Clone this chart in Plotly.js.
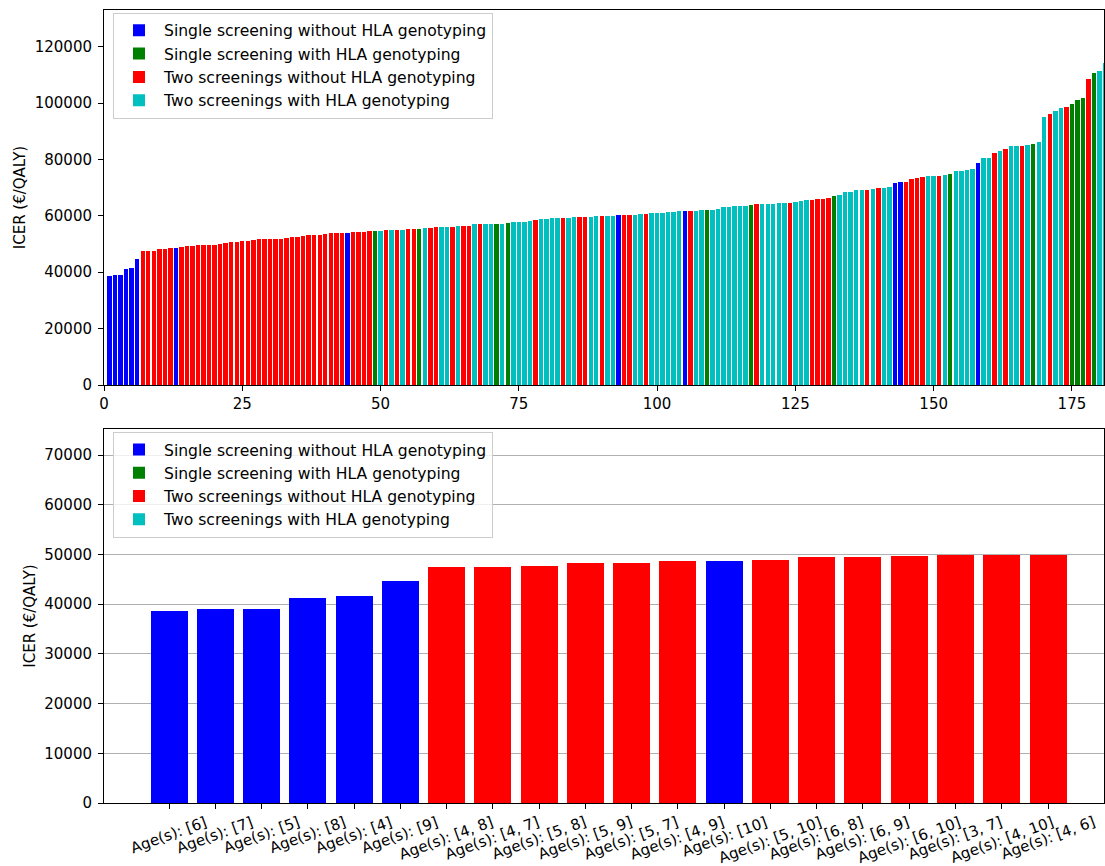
<!DOCTYPE html>
<html>
<head>
<meta charset="utf-8">
<script src="https://cdn.plot.ly/plotly-3.0.1.min.js"></script>
<style>
html, body { margin: 0; padding: 0; background: #ffffff; }
#chart { width: 1105px; height: 866px; }
</style>
</head>
<body>
<div id="chart"></div>
<script>
// ---- Data ----
const seriesNames = [
  'Single screening without HLA genotyping',
  'Single screening with HLA genotyping',
  'Two screenings without HLA genotyping',
  'Two screenings with HLA genotyping'
];
const seriesColors = ['#0000ff', '#008000', '#ff0000', '#00bfbf'];

// Top panel: all strategies sorted by ICER (position 1..N), group index into seriesNames
const topValues = [
  38530, 38930, 38930, 41150, 41550, 44570, 47380, 47380, 47590, 48190,
  48190, 48590, 48590, 48790, 49400, 49400, 49600, 49800, 49800, 49800,
  50080, 50440, 50790, 50790, 51150, 51150, 51500, 51860, 51860, 51860,
  51860, 51860, 52210, 52570, 52570, 52920, 53280, 53280, 53280, 53640,
  53990, 53990, 53990, 53990, 54350, 54350, 54350, 54700, 54700, 54700,
  55060, 55060, 55060, 55060, 55410, 55410, 55410, 55770, 55770, 56120,
  56120, 56120, 56120, 56470, 56470, 56470, 57180, 57180, 57180, 57180,
  57180, 57180, 57540, 57890, 57890, 57890, 58250, 58600, 58960, 58960,
  59310, 59310, 59310, 59310, 59670, 59670, 59670, 59670, 60020, 60020,
  60020, 60020, 60380, 60380, 60380, 60380, 60740, 60740, 61090, 61090,
  61090, 61450, 61450, 61800, 61800, 61800, 61800, 62160, 62160, 62160,
  62520, 63230, 63230, 63580, 63580, 63580, 63940, 64290, 64290, 64290,
  64290, 64650, 64650, 64650, 65000, 65360, 65710, 65710, 66070, 66070,
  66420, 67130, 67490, 68550, 68550, 69260, 69260, 69260, 69620, 69970,
  69970, 70330, 71750, 72110, 72110, 73170, 73530, 73880, 74240, 74240,
  74240, 74590, 74950, 76010, 76010, 76370, 76720, 78850, 80630, 80630,
  82410, 83120, 83830, 84890, 84890, 84890, 85250, 85600, 86310, 95190,
  96260, 97320, 98390, 98750, 99810, 101230, 101940, 108690, 110820, 111530,
  114370
];
const topGroups = [
  0, 0, 0, 0, 0, 0, 2, 2, 2, 2,
  2, 2, 0, 2, 2, 2, 2, 2, 2, 2,
  2, 2, 2, 2, 2, 2, 2, 2, 2, 2,
  2, 2, 2, 2, 2, 2, 2, 2, 2, 2,
  2, 2, 2, 0, 2, 2, 2, 2, 1, 3,
  2, 3, 2, 3, 2, 2, 1, 3, 2, 2,
  3, 3, 2, 3, 2, 2, 3, 2, 3, 3,
  1, 3, 1, 3, 3, 3, 3, 2, 3, 3,
  3, 3, 2, 3, 3, 2, 2, 3, 3, 2,
  3, 3, 0, 2, 2, 3, 3, 2, 3, 3,
  3, 3, 3, 3, 0, 2, 3, 3, 1, 3,
  3, 3, 3, 3, 3, 3, 1, 2, 3, 3,
  3, 3, 3, 2, 3, 3, 3, 2, 2, 2,
  2, 1, 3, 3, 3, 3, 3, 2, 3, 2,
  3, 3, 0, 0, 2, 2, 2, 2, 3, 3,
  2, 3, 1, 3, 3, 3, 3, 0, 3, 3,
  2, 3, 2, 3, 3, 2, 3, 1, 3, 3,
  2, 3, 3, 2, 1, 1, 1, 2, 1, 3,
  3
];

// Bottom panel: the 20 cheapest strategies
const bottomLabels = [
  'Age(s): [6]', 'Age(s): [7]', 'Age(s): [5]', 'Age(s): [8]', 'Age(s): [4]',
  'Age(s): [9]', 'Age(s): [4, 8]', 'Age(s): [4, 7]', 'Age(s): [5, 8]', 'Age(s): [5, 9]',
  'Age(s): [5, 7]', 'Age(s): [4, 9]', 'Age(s): [10]', 'Age(s): [5, 10]', 'Age(s): [6, 8]',
  'Age(s): [6, 9]', 'Age(s): [6, 10]', 'Age(s): [3, 7]', 'Age(s): [4, 10]', 'Age(s): [4, 6]'
];
const bottomValues = [
  38530, 38930, 38930, 41150, 41550, 44570, 47380, 47380, 47590, 48190,
  48190, 48590, 48590, 48790, 49400, 49400, 49600, 49800, 49800, 49800
];
const bottomGroups = [0, 0, 0, 0, 0, 0, 2, 2, 2, 2, 2, 2, 0, 2, 2, 2, 2, 2, 2, 2];

const topYTicks = [0, 20000, 40000, 60000, 80000, 100000, 120000];
const topXTicks = [0, 25, 50, 75, 100, 125, 150, 175];
const bottomYTicks = [0, 10000, 20000, 30000, 40000, 50000, 60000, 70000];

// ---- Build traces ----
const FONT = 'DejaVu Sans, Arial, sans-serif';
const traces = [];
seriesNames.forEach(function (name, g) {
  const xs = [], ys = [];
  topGroups.forEach(function (grp, i) { if (grp === g) { xs.push(i + 1); ys.push(topValues[i]); } });
  traces.push({
    type: 'bar', name: name, x: xs, y: ys, width: 0.8,
    marker: { color: seriesColors[g], line: { width: 0 } },
    xaxis: 'x', yaxis: 'y', legend: 'legend', hoverinfo: 'skip'
  });
});
seriesNames.forEach(function (name, g) {
  const xs = [], ys = [];
  bottomGroups.forEach(function (grp, i) { if (grp === g) { xs.push(i); ys.push(bottomValues[i]); } });
  if (xs.length === 0) { xs.push(0); ys.push(null); } // keep legend entry for series absent here
  traces.push({
    type: 'bar', name: name, x: xs, y: ys, width: 0.8,
    marker: { color: seriesColors[g], line: { width: 0 } },
    xaxis: 'x2', yaxis: 'y2', legend: 'legend2', hoverinfo: 'skip'
  });
});

const annotations = bottomLabels.map(function (lab, i) {
  return {
    text: lab, x: i, xref: 'x2', y: -0.011, yref: 'paper',
    xanchor: 'center', yanchor: 'top', showarrow: false, textangle: -20,
    borderpad: 0,
    font: { family: FONT, size: 15, color: '#000000' }
  };
});

const axisCommon = {
  showline: true, mirror: true, linecolor: '#000000', linewidth: 1,
  ticks: 'outside', ticklen: 5, tickwidth: 1, tickcolor: '#000000',
  zeroline: false, showgrid: false,
  tickfont: { family: FONT, size: 15, color: '#000000' }
};

const legendCommon = {
  x: 0.009, xanchor: 'left', yanchor: 'top', itemwidth: 40,
  bgcolor: 'rgba(255,255,255,0.8)', bordercolor: '#cccccc', borderwidth: 1,
  font: { family: FONT, size: 15.6, color: '#000000' }
};

const layout = {
  width: 1105, height: 866,
  margin: { l: 104, r: 1, t: 10, b: 63, pad: 0 },
  paper_bgcolor: '#ffffff', plot_bgcolor: '#ffffff',
  barmode: 'overlay', bargap: 0,
  font: { family: FONT, size: 15, color: '#000000' },
  xaxis: Object.assign({}, axisCommon, {
    domain: [0, 1], anchor: 'y', range: [0, 180.8],
    tickmode: 'array', tickvals: topXTicks, ticktext: topXTicks.map(String)
  }),
  yaxis: Object.assign({}, axisCommon, {
    domain: [0.5271, 1], anchor: 'x', range: [0, 133000], ticklabelstandoff: 3,
    tickmode: 'array', tickvals: topYTicks, ticktext: topYTicks.map(String),
    title: { text: 'ICER (€/QALY)', standoff: 5, font: { family: FONT, size: 15, color: '#000000' } }
  }),
  xaxis2: Object.assign({}, axisCommon, {
    domain: [0, 1], anchor: 'y2', range: [-1.405, 20.21],
    tickmode: 'array', tickvals: bottomLabels.map(function (_, i) { return i; }),
    showticklabels: false
  }),
  yaxis2: Object.assign({}, axisCommon, {
    domain: [0, 0.4716], anchor: 'x2', range: [0, 75230], ticklabelstandoff: 3,
    showgrid: true, gridcolor: '#b0b0b0', gridwidth: 1,
    tickmode: 'array', tickvals: bottomYTicks, ticktext: bottomYTicks.map(String),
    title: { text: 'ICER (€/QALY)', standoff: 5, font: { family: FONT, size: 15, color: '#000000' } }
  }),
  legend: Object.assign({}, legendCommon, { y: 0.9966 }),
  legend2: Object.assign({}, legendCommon, { y: 0.4681 }),
  showlegend: true,
  annotations: annotations
};

Plotly.newPlot('chart', traces, layout, { displayModeBar: false, staticPlot: true });
</script>
</body>
</html>
